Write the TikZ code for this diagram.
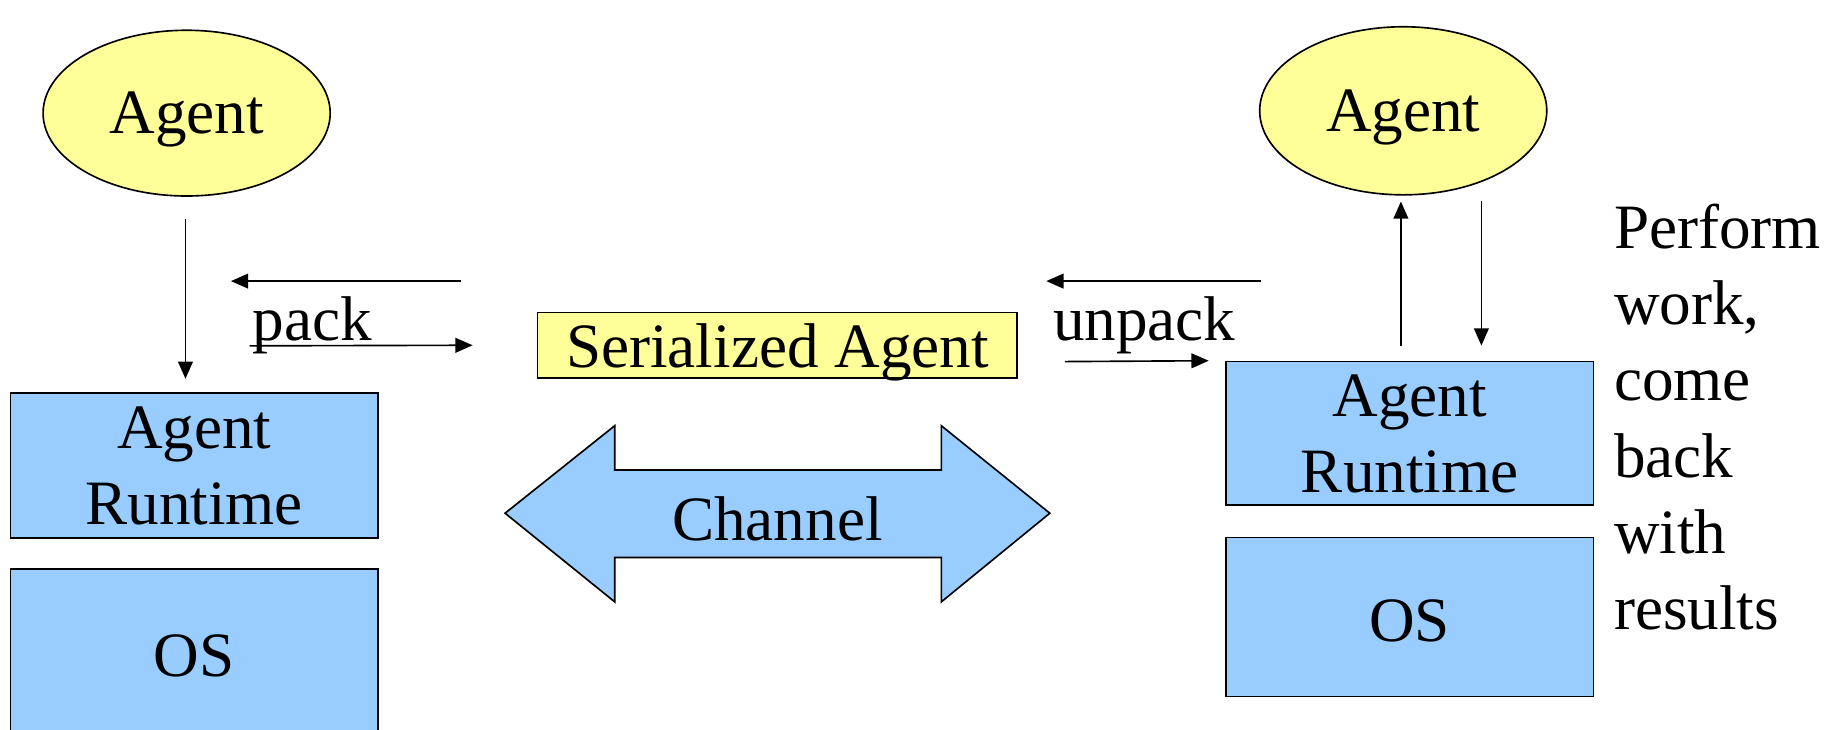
\documentclass[tikz,border=0pt]{standalone}
\usepackage{fontspec}
\setmainfont{Liberation Serif}
\usetikzlibrary{calc,arrows.meta,shapes.geometric}

\definecolor{agentyellow}{HTML}{FFFF99}
\definecolor{layerblue}{HTML}{99CCFF}

\tikzset{
  agentnode/.style={ellipse,draw,fill=agentyellow,inner sep=0pt,text depth=0pt,minimum width=2.46cm,minimum height=1.42cm},
  layerbox/.style={rectangle,draw,fill=layerblue,inner sep=0pt,text depth=0pt,minimum width=3.15cm,align=center},
  flow/.style={-{Triangle[length=4.2pt,width=3.6pt]}},
}

\begin{document}
\begin{tikzpicture}[x=0.01cm,y=-0.01cm,font=\fontsize{15.4}{18.6}\selectfont]
      \useasboundingbox (0,0) rectangle (1568,625);
      % left host
      \node[agentnode] (agentL) at (160,97) {Agent};
      \node[layerbox,minimum height=1.24cm] (rtL) at (166.5,399) {Agent\\Runtime};
      \node[layerbox,minimum height=1.48cm] (osL) at (166.5,562) {OS};
      \draw[flow] ($(agentL.south)+(-1,19)$) -- ++(0,137);
      % serialized agent and channel
      \node[draw,fill=agentyellow,inner sep=0pt,text depth=0pt,minimum width=4.11cm,minimum height=0.56cm] (ser) at (666.5,296) {Serialized Agent};
      \draw[fill=layerblue] (433,440) -- (527,365) -- (527,403) -- (807,403) -- (807,365) -- (900,440)
            -- (807,516) -- (807,478) -- (527,478) -- (527,516) -- cycle;
      \node (chan) at (666.5,445) {Channel};
      % pack
      \coordinate (packA) at (395,241);
      \coordinate (packB) at (198,241);
      \coordinate (packC) at (214,296.5);
      \draw[flow] (packA) -- (packB);
      \draw[flow] (packC) -- ($(ser.west)+(-55,0)$);
      \node[anchor=base] (packlbl) at (268,292) {pack};
      % right host
      \node[agentnode,minimum height=1.44cm] (agentR) at (1203,95) {Agent};
      \node[layerbox,minimum height=1.23cm] (rtR) at (1208.5,371.5) {Agent\\Runtime};
      \node[layerbox,minimum height=1.36cm] (osR) at (1208.5,529) {\raisebox{-0.1em}{OS}};
      \draw[flow] ($(rtR.north)+(-7.5,-13)$) -- ($(agentR.south)+(-2,5)$);
      \draw[flow] ($(agentR.south)+(67,5)$) -- ($(rtR.north)+(61.5,-13)$);
      % unpack
      \coordinate (unpackA) at (1081,241);
      \coordinate (unpackB) at (897,241);
      \coordinate (unpackC) at (913,310);
      \draw[flow] (unpackA) -- (unpackB);
      \draw[flow] (unpackC) -- ($(rtR.north west)+(-14,0)$);
      \node[anchor=base] (unpacklbl) at (981,292) {unpack};
      % note
      \node[anchor=north west,inner sep=0pt,align=left] (note) at (1383,174) {Perform\\work,\\come\\back\\with\\results};
\end{tikzpicture}
\end{document}
